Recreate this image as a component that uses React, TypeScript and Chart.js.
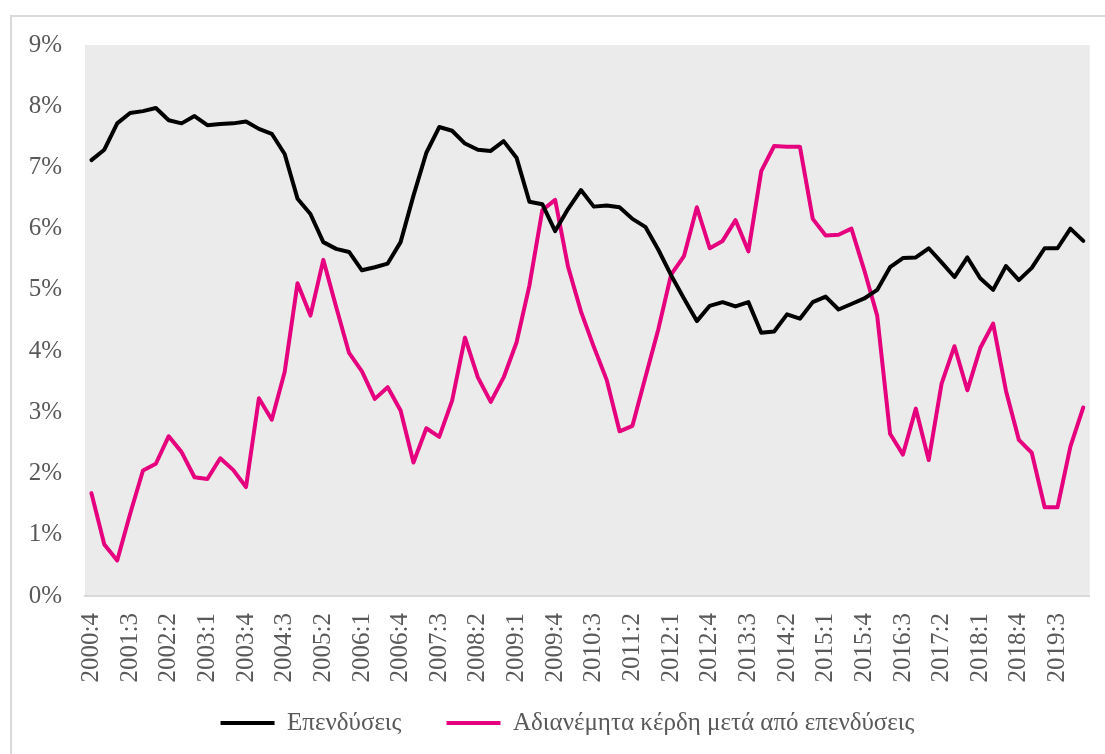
import React, { useEffect, useRef } from "react";
import { Chart, registerables } from "chart.js";

Chart.register(...registerables);

const quarters = [
  "2000:4",
  "2001:1", "2001:2", "2001:3", "2001:4",
  "2002:1", "2002:2", "2002:3", "2002:4",
  "2003:1", "2003:2", "2003:3", "2003:4",
  "2004:1", "2004:2", "2004:3", "2004:4",
  "2005:1", "2005:2", "2005:3", "2005:4",
  "2006:1", "2006:2", "2006:3", "2006:4",
  "2007:1", "2007:2", "2007:3", "2007:4",
  "2008:1", "2008:2", "2008:3", "2008:4",
  "2009:1", "2009:2", "2009:3", "2009:4",
  "2010:1", "2010:2", "2010:3", "2010:4",
  "2011:1", "2011:2", "2011:3", "2011:4",
  "2012:1", "2012:2", "2012:3", "2012:4",
  "2013:1", "2013:2", "2013:3", "2013:4",
  "2014:1", "2014:2", "2014:3", "2014:4",
  "2015:1", "2015:2", "2015:3", "2015:4",
  "2016:1", "2016:2", "2016:3", "2016:4",
  "2017:1", "2017:2", "2017:3", "2017:4",
  "2018:1", "2018:2", "2018:3", "2018:4",
  "2019:1", "2019:2", "2019:3", "2019:4",
  "2020:1",
];

// Επενδύσεις (%)
const investment = [
  7.12, 7.29, 7.72, 7.89, 7.92, 7.97, 7.77, 7.72, 7.84, 7.69,
  7.71, 7.72, 7.75, 7.63, 7.55, 7.22, 6.49, 6.24, 5.78, 5.67,
  5.62, 5.32, 5.37, 5.43, 5.78, 6.54, 7.24, 7.66, 7.6, 7.39,
  7.29, 7.27, 7.43, 7.16, 6.44, 6.4, 5.96, 6.32, 6.63, 6.36,
  6.38, 6.35, 6.16, 6.03, 5.66, 5.24, 4.86, 4.49, 4.74, 4.8,
  4.73, 4.8, 4.3, 4.32, 4.6, 4.53, 4.8, 4.89, 4.68, 4.77,
  4.86, 5.0, 5.37, 5.52, 5.53, 5.68, 5.45, 5.21, 5.53, 5.19,
  5.0, 5.39, 5.16, 5.36, 5.68, 5.68, 6.0, 5.8,
];

// Αδιανέμητα κέρδη μετά από επενδύσεις (%)
const retained = [
  1.68, 0.84, 0.58, 1.34, 2.05, 2.16, 2.61, 2.35, 1.94, 1.91,
  2.25, 2.06, 1.78, 3.23, 2.88, 3.66, 5.11, 4.58, 5.49, 4.72,
  3.97, 3.67, 3.22, 3.41, 3.03, 2.18, 2.74, 2.6, 3.19, 4.22,
  3.57, 3.17, 3.57, 4.14, 5.07, 6.3, 6.47, 5.38, 4.65, 4.07,
  3.53, 2.69, 2.78, 3.57, 4.35, 5.25, 5.55, 6.35, 5.68, 5.8,
  6.14, 5.63, 6.94, 7.35, 7.34, 7.34, 6.16, 5.89, 5.9, 6.0,
  5.32, 4.58, 2.65, 2.31, 3.06, 2.22, 3.47, 4.08, 3.36, 4.05,
  4.45, 3.35, 2.55, 2.34, 1.45, 1.45, 2.44, 3.08,
];

const seriesNames = ["Επενδύσεις", "Αδιανέμητα κέρδη μετά από επενδύσεις"];
const seriesColors = ["#000000", "#e5007d"];

const FONT = "'Liberation Serif', 'Times New Roman', serif";
const TEXT = "#595959";
const FONT_SIZE = 25;

// canvas sits at page (12, 7)
const CANVAS_LEFT = 12;
const CANVAS_TOP = 7;
const CANVAS_W = 1093;
const CANVAS_H = 770;
const PAD = { top: 38, right: 15, bottom: 0, left: 0 };
const PLOT_LEFT = 73;
const PLOT_BOTTOM = 589;
const LEGEND_PAD = 45;
const LEGEND_CENTER_X = 555.5;
const LEGEND_CENTER_Y = 716;

const plotBackground = {
  id: "plotBackground",
  beforeDraw(chart: any) {
    const { ctx, chartArea } = chart;
    if (!chartArea) return;
    ctx.save();
    ctx.fillStyle = "#ebebeb";
    ctx.fillRect(chartArea.left, chartArea.top, chartArea.right - chartArea.left, chartArea.bottom - chartArea.top);
    ctx.restore();
  },
};

const legendPlacement = {
  id: "legendPlacement",
  beforeDraw(chart: any) {
    const lg = chart.legend;
    if (!lg) return;
    const h = lg.bottom - lg.top;
    const top = LEGEND_CENTER_Y - FONT_SIZE / 2 - LEGEND_PAD;
    lg.top = top;
    lg.bottom = top + h;
    lg.left = LEGEND_CENTER_X - 600;
    lg.right = LEGEND_CENTER_X + 600;
  },
};

export default function App() {
  const ref = useRef<HTMLCanvasElement | null>(null);

  useEffect(() => {
    if (!ref.current) return;
    const legendH = FONT_SIZE + LEGEND_PAD + 10;
    const xAxisH = CANVAS_H - PAD.bottom - legendH - PLOT_BOTTOM;
    const chart = new Chart(ref.current, {
      type: "line",
      data: {
        labels: quarters,
        datasets: [
          {
            label: seriesNames[0],
            data: investment,
            borderColor: seriesColors[0],
            backgroundColor: seriesColors[0],
            borderWidth: 4,
            pointRadius: 0,
            tension: 0,
            borderJoinStyle: "round",
            borderCapStyle: "round",
          },
          {
            label: seriesNames[1],
            data: retained,
            borderColor: seriesColors[1],
            backgroundColor: seriesColors[1],
            borderWidth: 4,
            pointRadius: 0,
            tension: 0,
            borderJoinStyle: "round",
            borderCapStyle: "round",
          },
        ],
      },
      options: {
        responsive: false,
        animation: false,
        layout: { padding: PAD },
        plugins: {
          tooltip: { enabled: false },
          legend: {
            position: "bottom",
            labels: {
              usePointStyle: true,
              pointStyle: "line",
              pointStyleWidth: 54,
              padding: LEGEND_PAD,
              color: TEXT,
              font: { family: FONT, size: FONT_SIZE },
            },
          },
        },
        scales: {
          x: {
            type: "category",
            offset: true,
            grid: { display: false, drawTicks: false },
            border: { display: true, color: "#d9d9d9", width: 2 },
            ticks: {
              autoSkip: false,
              maxRotation: 90,
              minRotation: 90,
              padding: 17,
              color: TEXT,
              font: { family: FONT, size: FONT_SIZE },
              callback: (_v: any, i: number) => (i % 3 === 0 ? quarters[i] : null),
            },
            afterFit: (scale: any) => {
              scale.height = xAxisH;
            },
          },
          y: {
            min: 0,
            max: 9,
            grid: { display: false, drawTicks: false },
            border: { display: false },
            ticks: {
              stepSize: 1,
              padding: 23,
              color: TEXT,
              font: { family: FONT, size: FONT_SIZE },
              callback: (v: any) => `${v}%`,
            },
            afterFit: (scale: any) => {
              scale.width = PLOT_LEFT - PAD.left;
            },
          },
        },
      },
      plugins: [plotBackground, legendPlacement],
    });
    return () => chart.destroy();
  }, []);

  return (
    <div
      style={{
        position: "fixed",
        left: 0,
        top: 0,
        width: 1105,
        height: 754,
        overflow: "hidden",
        background: "#ffffff",
      }}
    >
      <div
        style={{
          position: "absolute",
          left: 10,
          top: 15,
          width: 1200,
          height: 900,
          border: "2px solid #d9d9d9",
        }}
      />
      <canvas
        ref={ref}
        width={CANVAS_W}
        height={CANVAS_H}
        style={{ position: "absolute", left: CANVAS_LEFT, top: CANVAS_TOP, width: CANVAS_W, height: CANVAS_H }}
      />
    </div>
  );
}
